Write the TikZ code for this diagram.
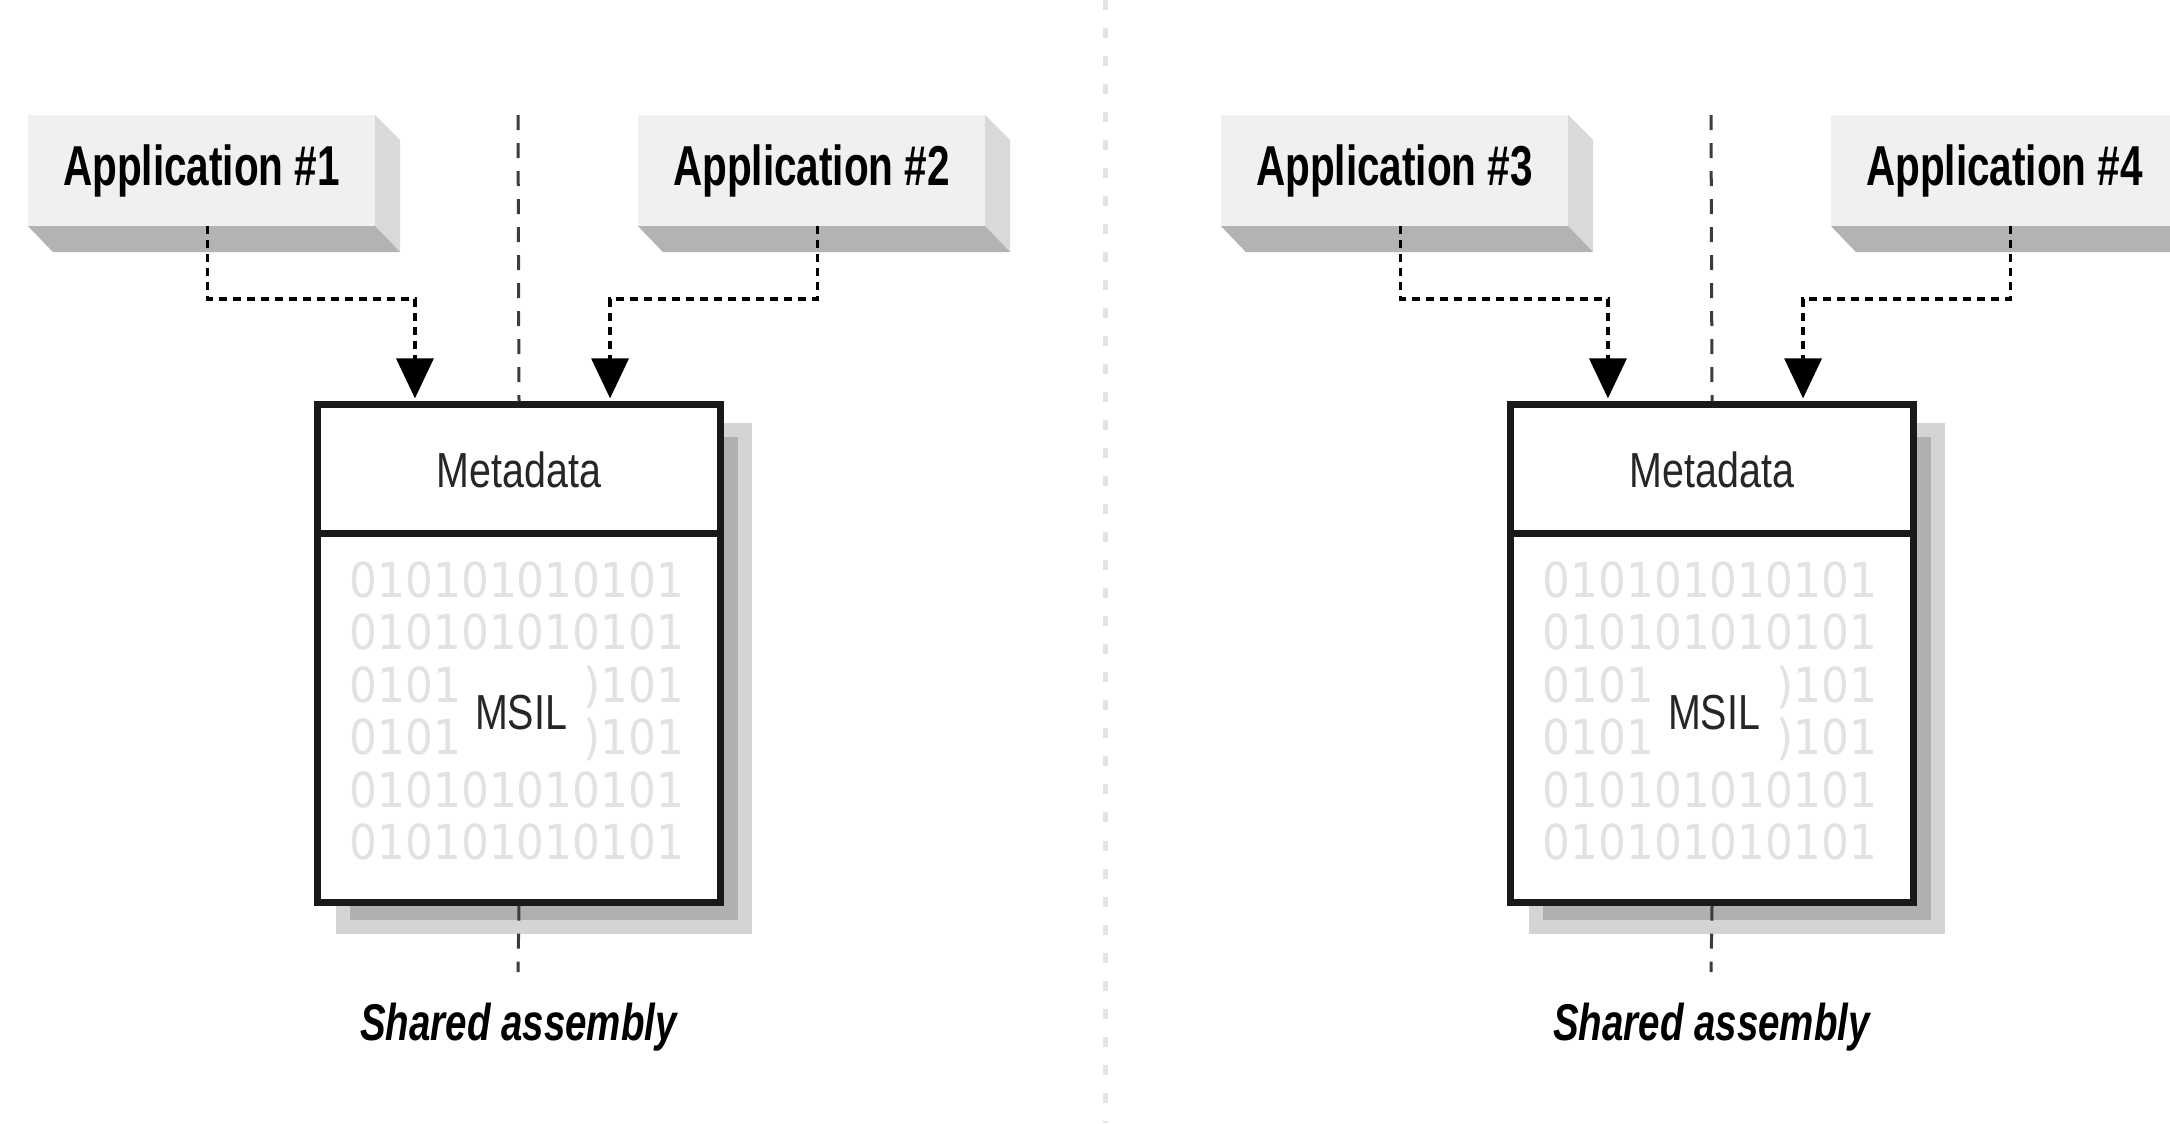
\documentclass[tikz,border=0pt]{standalone}
\usepackage{fontspec}
\setmainfont{Liberation Sans}
\newfontfamily\appfont[FakeStretch=0.72]{Liberation Sans}
\newfontfamily\labelfont[FakeStretch=0.80]{Liberation Sans}
\newfontfamily\captionfont[FakeStretch=0.745]{Liberation Sans}
\newfontfamily\bitsfont[FakeStretch=0.91]{DejaVu Sans}
\usetikzlibrary{arrows.meta,positioning,shadows}

\definecolor{appfront}{HTML}{F0F0F0}
\definecolor{appside}{HTML}{D9D9D9}
\definecolor{appbottom}{HTML}{B3B3B3}
\definecolor{shadowgray}{HTML}{B0B0B0}
\definecolor{shadowrim}{HTML}{D4D4D4}
\definecolor{bitgray}{HTML}{E2E2E2}
\definecolor{axisgray}{HTML}{3C3C3C}
\definecolor{sepgray}{HTML}{E4E4E4}

\begin{document}
\begin{tikzpicture}[
    x=0.01cm, y=-0.01cm,
    app/.style={rectangle, fill=appfront, inner sep=0, outer sep=0, minimum width=3.47cm, minimum height=1.11cm, font=\appfont\bfseries\fontsize{16}{19}\selectfont},
    asm/.style={rectangle, draw=black!90, line width=0.07cm, fill=white, minimum width=4.02cm, minimum height=4.97cm,
        drop shadow={shadow xshift=0.25cm, shadow yshift=-0.25cm, fill=shadowgray, draw=shadowrim, line width=0.14cm, opacity=1}},
    divider/.style={line width=0.07cm, draw=black!90},
    part/.style={inner sep=0, text=black!85, font=\labelfont\fontsize{14}{16}\selectfont},
    bits/.style={inner sep=0, text=bitgray, font=\bitsfont\fontsize{13.7}{16}\selectfont},
    caption/.style={anchor=base, inner sep=0, font=\captionfont\bfseries\itshape\fontsize{14.7}{17}\selectfont},
    axis/.style={draw=axisgray, line width=0.03cm, dash pattern=on 0.15cm off 0.13cm},
    link/.style={line width=0.035cm, dash pattern=on 0.08cm off 0.06cm, -{Triangle[width=0.37cm,length=0.4cm]}, shorten >=0.03cm},
    separator/.style={draw=sepgray, line width=0.05cm, dash pattern=on 0.1cm off 0.18cm}
]
    \useasboundingbox (0,0) rectangle (2170,1123);
    \clip (0,0) rectangle (2170,1123);

    % gray divider between the two halves
    \coordinate (septop) at (1105,0);
    \coordinate (sepbot) at (1105,1123);
    \draw[separator] (septop) -- (sepbot);

    \foreach \s/\i/\a/\b in {0/1/1/2, 1193/2/3/4} {
        % applications
        \node[app] (app\a) at (201.5+\s,170.5) {Application \#\a};
        \node[app] (app\b) at (811.5+\s,170.5) {Application \#\b};
        \foreach \n in {\a,\b} {
            \fill[appside] (app\n.north east) -- ++(25,25) -- ([shift={(25,26)}]app\n.south east) -- (app\n.south east) -- cycle;
            \fill[appbottom] (app\n.south west) -- (app\n.south east) -- ([shift={(25,26)}]app\n.south east) -- ([shift={(25,26)}]app\n.south west) -- cycle;
        }

        % shared assembly
        \node[asm] (asm\i) at (519+\s,653.5) {};
        \draw[divider] ([yshift=-1.32cm]asm\i.north west) -- ([yshift=-1.32cm]asm\i.north east);
        \node[part] (meta\i) at (519+\s,470) {Metadata};
        \foreach \r in {0,1,4,5}
            \node[bits] (bits\i-\r) at (517+\s,579.5+52.5*\r) {010101010101};
        \foreach \r in {2,3} {
            \node[bits, anchor=base west] (bitsl\i-\r) at (349+\s,597+52.5*\r) {0101};
            \node[bits, anchor=base east] (bitsr\i-\r) at (685+\s,597+52.5*\r) {)101};
        }
        \node[part] (msil\i) at (521+\s,713) {MSIL};
        \node[caption] (cap\i) at (518.5+\s,1040) {Shared assembly};

        % center line
        \coordinate (axtop\i) at (518+\s,115);
        \coordinate (axbot\i) at (518+\s,972);
        \draw[axis] (axtop\i) -- (asm\i.north);
        \draw[axis] (asm\i.south) -- (axbot\i);

        % references
        \draw[link] ([xshift=0.06cm]app\a.south) -- ++(0,73) -| ([xshift=-1.04cm]asm\i.north);
        \draw[link] ([xshift=0.06cm]app\b.south) -- ++(0,73) -| ([xshift=0.91cm]asm\i.north);
    }
\end{tikzpicture}
\end{document}
